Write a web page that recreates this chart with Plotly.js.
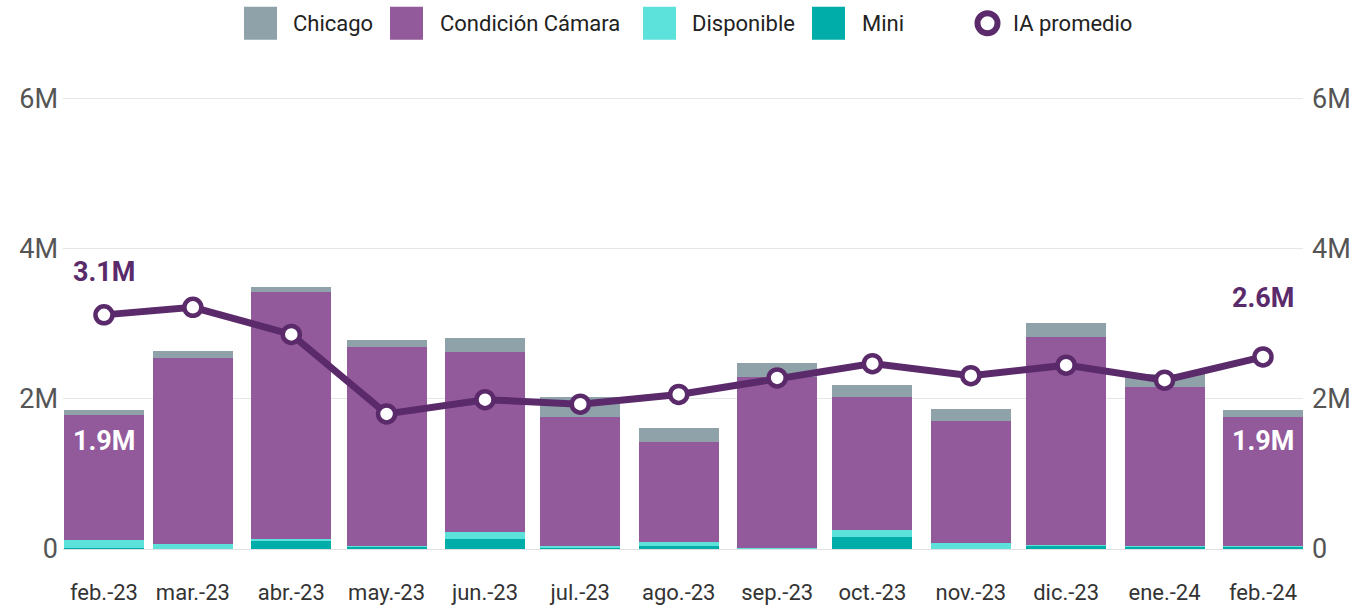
<!DOCTYPE html>
<html>
<head>
<meta charset="utf-8">
<script src="https://cdn.plot.ly/plotly-3.0.1.min.js"></script>
<style>
  html, body { margin: 0; padding: 0; background: #ffffff; }
  #chart { width: 1361px; height: 608px; }
</style>
</head>
<body>
<div id="chart"></div>
<script>
// ---------- data ----------
const months = ['2023-02-01','2023-03-01','2023-04-01','2023-05-01','2023-06-01','2023-07-01','2023-08-01','2023-09-01','2023-10-01','2023-11-01','2023-12-01','2024-01-01','2024-02-01'];
const monthLabels = ['feb.-23','mar.-23','abr.-23','may.-23','jun.-23','jul.-23','ago.-23','sep.-23','oct.-23','nov.-23','dic.-23','ene.-24','feb.-24'];
const mini        = [0.013, 0.005, 0.107, 0.030, 0.138, 0.015, 0.040, 0.010, 0.160, 0.003, 0.040, 0.030, 0.030].map(v => v * 1e6);
const disponible  = [0.103, 0.057, 0.030, 0.013, 0.085, 0.020, 0.050, 0.010, 0.090, 0.080, 0.018, 0.005, 0.005].map(v => v * 1e6);
const condicion   = [1.670, 2.485, 3.290, 2.654, 2.404, 1.729, 1.341, 2.273, 1.777, 1.627, 2.769, 2.129, 1.729].map(v => v * 1e6);
const chicago     = [0.067, 0.093, 0.070, 0.089, 0.187, 0.260, 0.187, 0.187, 0.160, 0.160, 0.187, 0.170, 0.089].map(v => v * 1e6);
const iaPromedio  = [3.12, 3.22, 2.86, 1.80, 1.99, 1.93, 2.06, 2.28, 2.47, 2.31, 2.45, 2.25, 2.56].map(v => v * 1e6);
const yTickVals   = [0, 2e6, 4e6, 6e6];
const yTickText   = ['0', '2M', '4M', '6M'];
const seriesNames = ['Chicago', 'Condición Cámara', 'Disponible', 'Mini', 'IA promedio'];

// ---------- style ----------
const C = {
  chicago: '#8fa2aa',
  condicion: '#935a9b',
  disponible: '#5ce1db',
  mini: '#00ada9',
  line: '#5b2a6b'
};
const FONT = 'Roboto, "Noto Sans", sans-serif';
const DAY = 86400000;
const barW = 25.2 * DAY;
const yMax = 6.05e6;

function fmtM(v) { return (v / 1e6).toFixed(1) + 'M'; }
const totals = months.map((m, i) => mini[i] + disponible[i] + condicion[i] + chicago[i]);

function barTrace(name, y, color) {
  return {
    type: 'bar', name: name, x: months, y: y, width: months.map(() => barW),
    marker: { color: color, line: { width: 0 } }, showlegend: false,
    hovertemplate: '%{x|%b %Y}: %{y:.3s}<extra>' + name + '</extra>'
  };
}

const traces = [
  barTrace(seriesNames[3], mini, C.mini),
  barTrace(seriesNames[2], disponible, C.disponible),
  barTrace(seriesNames[1], condicion, C.condicion),
  barTrace(seriesNames[0], chicago, C.chicago),
  {
    type: 'scatter', mode: 'lines+markers', name: seriesNames[4],
    x: months, y: iaPromedio, yaxis: 'y2', showlegend: false,
    line: { color: C.line, width: 7 },
    marker: { size: 17, color: '#ffffff', line: { color: C.line, width: 4.5 } }
  }
];

// plot area in pixels (zero at y=549, 6M at y=99 -> 75 px per million)
const L = 63, R = 1303, B = 549, W = 1361, H = 608;
const T = B - yMax / 1e6 * 75;
const px = x => (x - L) / (R - L);
const py = y => (B - y) / (B - T);

// custom legend
const legendItems = [
  { name: seriesNames[0], color: C.chicago,    sx: 244, tx: 291 },
  { name: seriesNames[1], color: C.condicion,  sx: 390, tx: 438 },
  { name: seriesNames[2], color: C.disponible, sx: 643, tx: 690 },
  { name: seriesNames[3], color: C.mini,       sx: 812, tx: 860 }
];
const shapes = [];
const annotations = [];
legendItems.forEach(it => {
  shapes.push({ type: 'rect', xref: 'paper', yref: 'paper',
    x0: px(it.sx), x1: px(it.sx + 33), y0: py(40), y1: py(7),
    fillcolor: it.color, line: { width: 0 } });
  annotations.push({ xref: 'paper', yref: 'paper', x: px(it.tx), y: py(23.5),
    xanchor: 'left', yanchor: 'middle', showarrow: false, text: it.name,
    font: { family: FONT, size: 22, color: '#222222' } });
});
shapes.push({ type: 'circle', xref: 'paper', yref: 'paper',
  x0: px(977.5), x1: px(997.5), y0: py(33.5), y1: py(13.5),
  fillcolor: '#ffffff', line: { color: C.line, width: 6 } });
annotations.push({ xref: 'paper', yref: 'paper', x: px(1011), y: py(23.5),
  xanchor: 'left', yanchor: 'middle', showarrow: false, text: seriesNames[4],
  font: { family: FONT, size: 22, color: '#222222' } });

// data labels
const last = months.length - 1;
annotations.push({ x: months[0], y: iaPromedio[0], yref: 'y2', yshift: 43, showarrow: false,
  text: '<b>' + fmtM(iaPromedio[0]) + '</b>', font: { family: FONT, size: 27, color: C.line } });
annotations.push({ x: months[last], y: iaPromedio[last], yref: 'y2', yshift: 59, showarrow: false,
  text: '<b>' + fmtM(iaPromedio[last]) + '</b>', font: { family: FONT, size: 27, color: C.line } });
annotations.push({ x: months[0], y: totals[0], yref: 'y', yshift: -31, showarrow: false,
  text: '<b>' + fmtM(totals[0]) + '</b>', font: { family: FONT, size: 27, color: '#ffffff' } });
annotations.push({ x: months[last], y: totals[last], yref: 'y', yshift: -31, showarrow: false,
  text: '<b>' + fmtM(totals[last]) + '</b>', font: { family: FONT, size: 27, color: '#ffffff' } });

const xStart = new Date(Date.parse(months[0] + 'T00:00:00Z') - 12.9 * DAY).toISOString();
const xEnd = new Date(Date.parse(months[last] + 'T00:00:00Z') + 12.6 * DAY).toISOString();

const layout = {
  width: W, height: H,
  margin: { l: L, r: W - R, t: T, b: H - B, pad: 0 },
  paper_bgcolor: '#ffffff', plot_bgcolor: '#ffffff',
  font: { family: FONT },
  barmode: 'stack',
  showlegend: false,
  xaxis: {
    type: 'date', range: [xStart, xEnd],
    tickvals: months, ticktext: monthLabels,
    tickfont: { family: FONT, size: 22, color: '#333333' },
    showgrid: false, zeroline: false, showline: false, ticks: '',
    ticklabelstandoff: 28
  },
  yaxis: {
    range: [0, yMax], tickvals: yTickVals, ticktext: yTickText,
    tickfont: { family: FONT, size: 27, color: '#555555' },
    showgrid: true, gridcolor: '#e6e6e6', gridwidth: 1,
    zeroline: true, zerolinecolor: '#e0e0e0', zerolinewidth: 1,
    showline: false, ticks: '', ticklabelstandoff: 4
  },
  yaxis2: {
    range: [0, yMax], tickvals: yTickVals, ticktext: yTickText, overlaying: 'y', side: 'right',
    tickfont: { family: FONT, size: 27, color: '#555555' },
    showgrid: false, zeroline: false, showline: false, ticks: '', ticklabelstandoff: 8
  },
  shapes: shapes,
  annotations: annotations
};

Plotly.newPlot('chart', traces, layout, { displayModeBar: false, responsive: false });
</script>
</body>
</html>
